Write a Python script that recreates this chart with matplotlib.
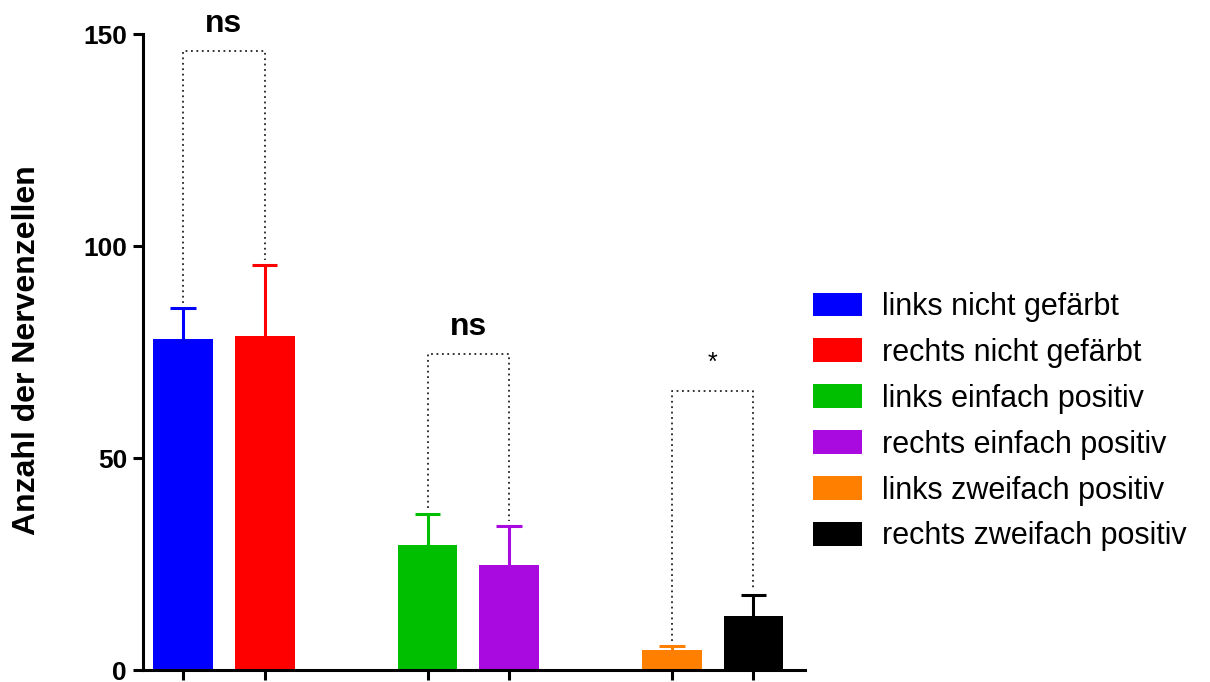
import matplotlib.pyplot as plt
from matplotlib.patches import Patch

plt.rcParams['font.family'] = ['Liberation Sans', 'DejaVu Sans']

labels = ["links nicht gefärbt", "rechts nicht gefärbt", "links einfach positiv",
          "rechts einfach positiv", "links zweifach positiv", "rechts zweifach positiv"]
means = [78.0, 78.7, 29.4, 24.8, 4.6, 12.8]
errors = [7.3, 16.9, 7.5, 9.1, 1.1, 4.8]
colors = ["#0000FF", "#FF0000", "#00BE00", "#A90ADF", "#FF8000", "#000000"]
positions = [0, 1, 3, 4, 6, 7]

# significance brackets: (left bar, right bar, height, text)
brackets = [(0, 1, 146.0, "ns"), (2, 3, 74.6, "ns"), (4, 5, 65.7, "*")]

fig = plt.figure(figsize=(12.1, 6.82), dpi=100)
ax = fig.add_axes([143 / 1210, 12 / 682, 662 / 1210, 636 / 682])

for p, m, e, c in zip(positions, means, errors, colors):
    ax.bar(p, m, width=0.736, color=c, zorder=2)
    # only the upper half of the error bar, as in the original
    ax.vlines(p, m, m + e, color=c, lw=2.2, zorder=3)
    ax.hlines(m + e, p - 0.155, p + 0.155, color=c, lw=2.2, zorder=3)

for i, j, h, txt in brackets:
    x1, x2 = positions[i], positions[j]
    y1 = means[i] + errors[i] + 1.2
    y2 = means[j] + errors[j] + 1.2
    ax.plot([x1, x1, x2, x2], [y1, h, h, y2], linestyle=(0, (1, 2)),
            color="#222222", lw=1.3, zorder=1, clip_on=False)
    if txt == "*":
        ax.text((x1 + x2) / 2, h + 5.0, txt, ha="center", va="baseline", fontsize=18)
    else:
        ax.text((x1 + x2) / 2, h + 4.4, txt, ha="center", va="baseline", fontsize=23,
                fontweight="bold")

ax.set_xlim(-0.491, 7.632)
ax.set_ylim(0, 150)
ax.set_yticks([0, 50, 100, 150])
ax.set_xticks(positions)
ax.set_xticklabels([])
ax.spines["top"].set_visible(False)
ax.spines["right"].set_visible(False)
ax.spines["left"].set_linewidth(2.2)
ax.spines["bottom"].set_linewidth(2.2)
ax.tick_params(axis="both", length=7.5, width=2.2, direction="out")
ax.tick_params(axis="y", labelsize=19, pad=4)
for t in ax.get_yticklabels():
    t.set_fontweight("bold")

fig.text(27 / 1210, 1 - 350 / 682, "Anzahl der Nervenzellen", rotation=90,
         ha="center", va="center", fontsize=23, fontweight="bold")

handles = [Patch(facecolor=c, label=l) for c, l in zip(colors, labels)]
fig.legend(handles=handles, loc="upper left", bbox_to_anchor=(813 / 1210, 1 - 292 / 682),
           frameon=False, fontsize=22, handlelength=1.6, handleheight=0.82,
           handletextpad=0.65, labelspacing=0.52, borderpad=0, borderaxespad=0)

fig.savefig("out.png", dpi=100)
